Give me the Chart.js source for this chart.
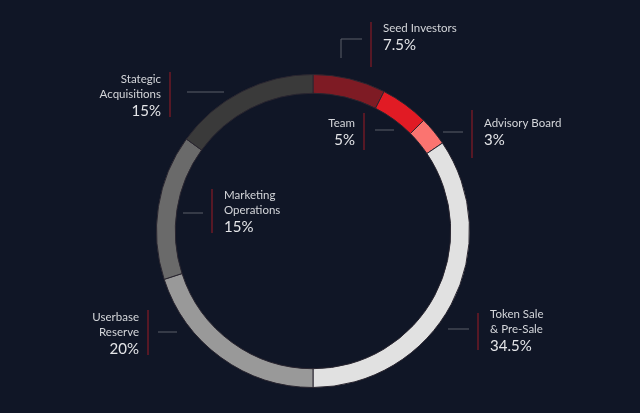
<!DOCTYPE html>
<html>
<head>
<meta charset="utf-8">
<script src="https://cdn.jsdelivr.net/npm/chart.js@4/dist/chart.umd.min.js"></script>
<style>
  html, body { margin: 0; padding: 0; background: #101626; }
  #wrap { width: 640px; height: 413px; position: relative; }
</style>
</head>
<body>
<div id="wrap"><canvas id="myChart" width="640" height="413"></canvas></div>
<script>
var tokenLabels = [['Seed Investors'], ['Team'], ['Advisory Board'], ['Token Sale', '& Pre-Sale'], ['Userbase', 'Reserve'], ['Marketing', 'Operations'], ['Stategic', 'Acquisitions']];
var tokenValues = [7.5, 5, 3, 34.5, 20, 15, 15];
var tokenColors = ['#7e1b24', '#e11b24', '#fb7470', '#e1e1e1', '#999999', '#6a6a6a', '#3a3a3a'];

// callout layout: red bar x / top / bottom, first text line y, side of text, grey leader
var callouts = [
    {bar: 371, y0: 22, y1: 67, ty: 28, side: 'right', leader: [[341, 58], [341, 39], [362, 39]]},
    {bar: 364, y0: 113, y1: 150, ty: 123, side: 'left', leader: [[375, 130], [394, 130]]},
    {bar: 472, y0: 110, y1: 158, ty: 123, side: 'right', leader: [[443, 132], [463, 132]]},
    {bar: 478, y0: 313, y1: 350, ty: 314, side: 'right', leader: [[448, 329], [469, 329]]},
    {bar: 148, y0: 310, y1: 355, ty: 317, side: 'left', leader: [[158, 332], [177, 332]]},
    {bar: 212, y0: 189, y1: 233, ty: 195, side: 'right', leader: [[183, 213], [203, 213]]},
    {bar: 170, y0: 72, y1: 117, ty: 79, side: 'left', leader: [[187, 92], [224, 92]]}
];

var ctx = document.getElementById('myChart').getContext('2d');

var calloutPlugin = {
    id: 'callouts',
    afterDraw: function(chart) {
        var c = chart.ctx;
        c.save();
        for (var i = 0; i < callouts.length; i++) {
            var co = callouts[i];
            var lines = tokenLabels[i];
            // red bar
            c.strokeStyle = '#6e1a26';
            c.lineWidth = 1.5;
            c.beginPath();
            c.moveTo(co.bar, co.y0);
            c.lineTo(co.bar, co.y1);
            c.stroke();
            // grey leader
            c.strokeStyle = '#5a5e68';
            c.lineWidth = 1;
            c.beginPath();
            c.moveTo(co.leader[0][0], co.leader[0][1]);
            for (var k = 1; k < co.leader.length; k++) c.lineTo(co.leader[k][0], co.leader[k][1]);
            c.stroke();
            // text
            var tx = co.side === 'right' ? co.bar + 12 : co.bar - 9;
            c.textAlign = co.side === 'right' ? 'left' : 'right';
            c.textBaseline = 'middle';
            c.fillStyle = '#d4d6da';
            c.font = '11.5px Lato, "Open Sans", sans-serif';
            var y = co.ty;
            for (var j = 0; j < lines.length; j++) {
                c.fillText(lines[j], tx, y);
                y += 15;
            }
            c.font = '15px Lato, "Open Sans", sans-serif';
            c.fillStyle = '#e4e5e8';
            c.fillText(tokenValues[i] + '%', tx, y + 2);
        }
        c.restore();
    }
};

var myChart = new Chart(ctx, {
    type: 'doughnut',
    data: {
        labels: tokenLabels.map(function(l) { return l.join(' '); }),
        datasets: [{
            data: tokenValues,
            backgroundColor: tokenColors,
            borderColor: '#2a2630',
            borderWidth: 1
        }]
    },
    options: {
        responsive: false,
        animation: false,
        cutout: '88%',
        layout: {
            padding: {left: 156, right: 170, top: 74, bottom: 25}
        },
        plugins: {
            legend: { display: false },
            tooltip: { enabled: false }
        }
    },
    plugins: [calloutPlugin]
});
</script>
</body>
</html>
